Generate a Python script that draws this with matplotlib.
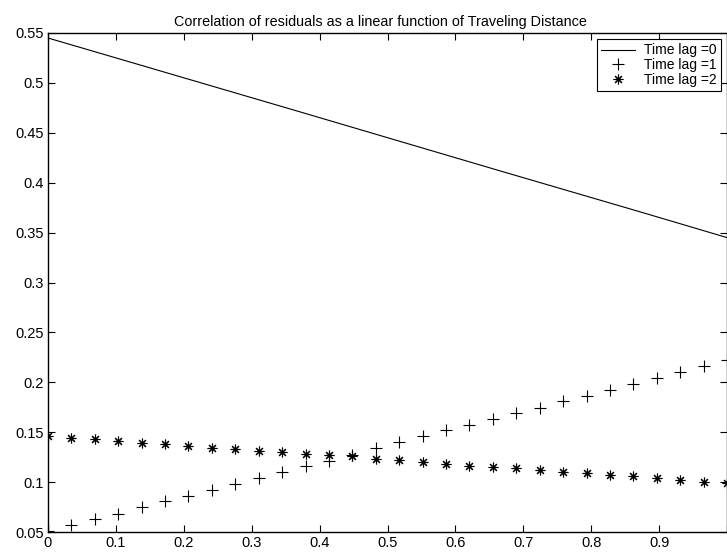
import numpy as np
import matplotlib
matplotlib.use('Agg')
from matplotlib import pyplot as plt
from matplotlib.ticker import FuncFormatter

plt.rcParams['font.family'] = ['Liberation Sans', 'DejaVu Sans']

# lag 0: straight line, read at a few positions
x_lag0 = [0.0, 0.371, 0.665, 0.871, 1.0]
y_lag0 = [0.545, 0.471, 0.412, 0.371, 0.345]

# lag 1 and lag 2: 30 samples each
x_pts = [i / 29 for i in range(30)]
y_lag1 = [0.051, 0.057, 0.063, 0.068, 0.075, 0.081, 0.086, 0.092, 0.098, 0.104,
          0.110, 0.116, 0.121, 0.127, 0.134, 0.140, 0.146, 0.152, 0.157, 0.163,
          0.169, 0.174, 0.181, 0.186, 0.192, 0.198, 0.204, 0.210, 0.216, 0.222]
y_lag2 = [0.146, 0.144, 0.143, 0.141, 0.139, 0.138, 0.136, 0.134, 0.133, 0.131,
          0.130, 0.128, 0.127, 0.126, 0.123, 0.122, 0.120, 0.118, 0.116, 0.115,
          0.114, 0.112, 0.110, 0.109, 0.107, 0.106, 0.104, 0.102, 0.100, 0.099]

labels = ['Time lag =0', 'Time lag =1', 'Time lag =2']
title = 'Correlation of residuals as a linear function of Traveling Distance'

fig = plt.figure(figsize=(7.27, 5.56), dpi=100)
ax = fig.add_axes([48 / 727, 24 / 556, 679 / 727, 499 / 556])

ax.plot(x_lag0, y_lag0, color='black', linewidth=0.8, label=labels[0])
ax.plot(x_pts, y_lag1, linestyle='none', marker='+', markersize=8,
        markeredgewidth=0.8, color='black', label=labels[1])
ax.plot(x_pts, y_lag2, linestyle='none', marker=(8, 2, 0), markersize=7,
        markeredgewidth=0.8, color='black', label=labels[2])

ax.set_xlim(0, 1)
ax.set_ylim(0.05, 0.55)
ax.set_xticks(np.arange(0, 1.01, 0.1))
ax.set_yticks(np.arange(0.05, 0.551, 0.05))
# the last x label (1) sits beyond the picture edge in the original
ax.xaxis.set_major_formatter(FuncFormatter(lambda v, p: '' if v > 0.95 else '%g' % round(v, 2)))
ax.yaxis.set_major_formatter(FuncFormatter(lambda v, p: '%g' % round(v, 2)))
ax.tick_params(direction='in', top=True, right=True, length=5, width=0.8,
               labelsize=10.5, pad=3)
for s in ax.spines.values():
    s.set_linewidth(1.0)

ax.set_title(title, fontsize=10.4, pad=5, x=0.49)

leg = ax.legend(loc='upper right', fontsize=10, fancybox=False, framealpha=1,
                edgecolor='black', borderaxespad=0.45, handlelength=2.5,
                borderpad=0.3, labelspacing=0.05, handletextpad=0.6)
leg.get_frame().set_linewidth(0.8)

fig.savefig('out.png', dpi=100)
